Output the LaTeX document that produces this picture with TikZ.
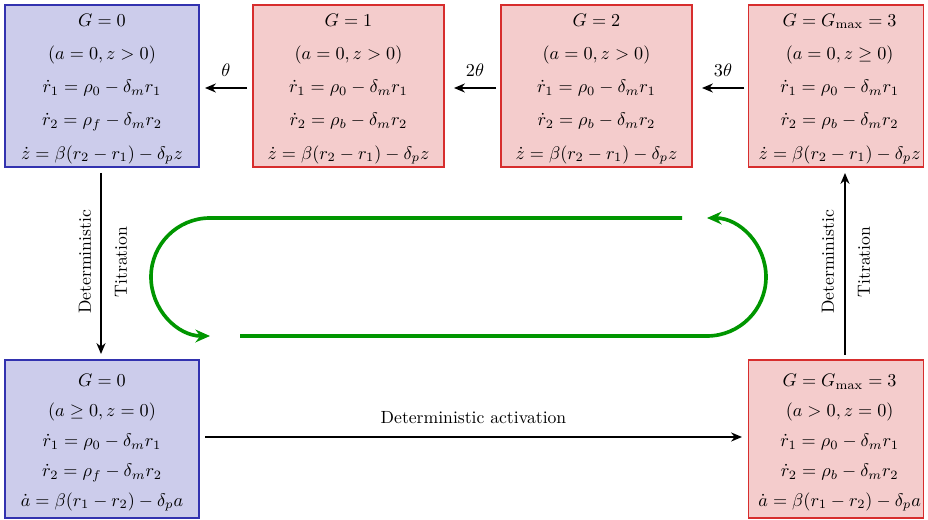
\documentclass[tikz,border=0pt]{standalone}
\usetikzlibrary{arrows.meta}
\definecolor{bfill}{RGB}{204,204,235}
\definecolor{bdraw}{RGB}{50,50,175}
\definecolor{rfill}{RGB}{244,204,204}
\definecolor{rdraw}{RGB}{215,45,45}
\definecolor{loopgreen}{RGB}{0,150,0}
\begin{document}
\begin{tikzpicture}[x=0.55pt,y=-0.55pt,
  box/.style={rectangle, line width=1pt, inner sep=0pt},
  topbox/.style={box, minimum height=89.1pt},
  botbox/.style={box, minimum height=86.9pt},
  toptext/.style={align=center, inner sep=0pt, font=\fontsize{9.7pt}{18.3pt}\selectfont},
  bottext/.style={align=center, inner sep=0pt, font=\fontsize{9.7pt}{16.4pt}\selectfont},
  bluebox/.style={fill=bfill, draw=bdraw},
  redbox/.style={fill=rfill, draw=rdraw},
  arr/.style={-{Stealth[length=6pt,width=5pt]}, line width=0.8pt},
  garr/.style={-{Stealth[length=8pt,width=7pt]}, line width=2pt, draw=loopgreen},
  lbl/.style={font=\fontsize{9.7pt}{12pt}\selectfont, inner sep=1pt}
]
\useasboundingbox (0,0) rectangle (928,520);

\node[topbox, bluebox, minimum width=106.7pt] (b0) at (102,86) {};
\node[toptext] (b0t) at ([yshift=-1.7pt]b0.center)
 {$G=0$\\ $(a=0,z>0)$\\ $\dot r_1=\rho_0-\delta_m r_1$\\ $\dot r_2=\rho_f-\delta_m r_2$\\ $\dot z=\beta(r_2-r_1)-\delta_p z$};
\node[topbox, redbox, minimum width=105pt] (b1) at (348.5,86) {};
\node[toptext] (b1t) at ([yshift=-1.7pt]b1.center)
 {$G=1$\\ $(a=0,z>0)$\\ $\dot r_1=\rho_0-\delta_m r_1$\\ $\dot r_2=\rho_b-\delta_m r_2$\\ $\dot z=\beta(r_2-r_1)-\delta_p z$};
\node[topbox, redbox, minimum width=105pt] (b2) at (596.5,86) {};
\node[toptext] (b2t) at ([yshift=-1.7pt]b2.center)
 {$G=2$\\ $(a=0,z>0)$\\ $\dot r_1=\rho_0-\delta_m r_1$\\ $\dot r_2=\rho_b-\delta_m r_2$\\ $\dot z=\beta(r_2-r_1)-\delta_p z$};
\node[topbox, redbox, minimum width=96.3pt] (b3) at (836,86) {};
\node[toptext] (b3t) at ([yshift=-1.7pt,xshift=2pt]b3.center)
 {$G=G_{\max}=3$\\ $(a=0,z\geq 0)$\\ $\dot r_1=\rho_0-\delta_m r_1$\\ $\dot r_2=\rho_b-\delta_m r_2$\\ $\dot z=\beta(r_2-r_1)-\delta_p z$};

\node[botbox, bluebox, minimum width=106.7pt] (c0) at (102,439) {};
\node[bottext] (c0t) at ([yshift=-2.2pt]c0.center)
 {$G=0$\\ $(a\geq 0,z=0)$\\ $\dot r_1=\rho_0-\delta_m r_1$\\ $\dot r_2=\rho_f-\delta_m r_2$\\ $\dot a=\beta(r_1-r_2)-\delta_p a$};
\node[botbox, redbox, minimum width=96.3pt] (c3) at (836,439) {};
\node[bottext] (c3t) at ([yshift=-2.2pt,xshift=2pt]c3.center)
 {$G=G_{\max}=3$\\ $(a>0,z=0)$\\ $\dot r_1=\rho_0-\delta_m r_1$\\ $\dot r_2=\rho_b-\delta_m r_2$\\ $\dot a=\beta(r_1-r_2)-\delta_p a$};

% horizontal arrows top
\coordinate (t1s) at (247,88); \coordinate (t1e) at (205,88);
\coordinate (t2s) at (496,88); \coordinate (t2e) at (454,88);
\coordinate (t3s) at (744,88); \coordinate (t3e) at (702,88);
\draw[arr] (t1s) -- node[lbl, above=5pt] (l1) {$\theta$} (t1e);
\draw[arr] (t2s) -- node[lbl, above=5pt] (l2) {$2\theta$} (t2e);
\draw[arr] (t3s) -- node[lbl, above=5pt] (l3) {$3\theta$} (t3e);

% vertical arrows
\coordinate (v1s) at (101,173); \coordinate (v1e) at (101,354);
\draw[arr] (v1s) -- (v1e);
\node[lbl, rotate=90] (d1) at (85,262) {Deterministic};
\node[lbl, rotate=90] (ti1) at (121,262) {Titration};
\coordinate (v2s) at (845,355); \coordinate (v2e) at (845,173);
\draw[arr] (v2s) -- (v2e);
\node[lbl, rotate=90] (d2) at (828,262) {Deterministic};
\node[lbl, rotate=90] (ti2) at (864,262) {Titration};

% bottom arrow
\coordinate (hs) at (205,437); \coordinate (he) at (742,437);
\draw[arr] (hs) -- node[lbl, above=6pt] (la) {Deterministic activation} (he);

% green loop
\coordinate (g1) at (682,218);
\coordinate (g2) at (240,336);
\draw[garr] (g1) -- (210,218) arc[start angle=-90, end angle=-270, radius=59];
\draw[garr] (g2) -- (707,336) arc[start angle=90, end angle=-90, radius=59];
\end{tikzpicture}
\end{document}
